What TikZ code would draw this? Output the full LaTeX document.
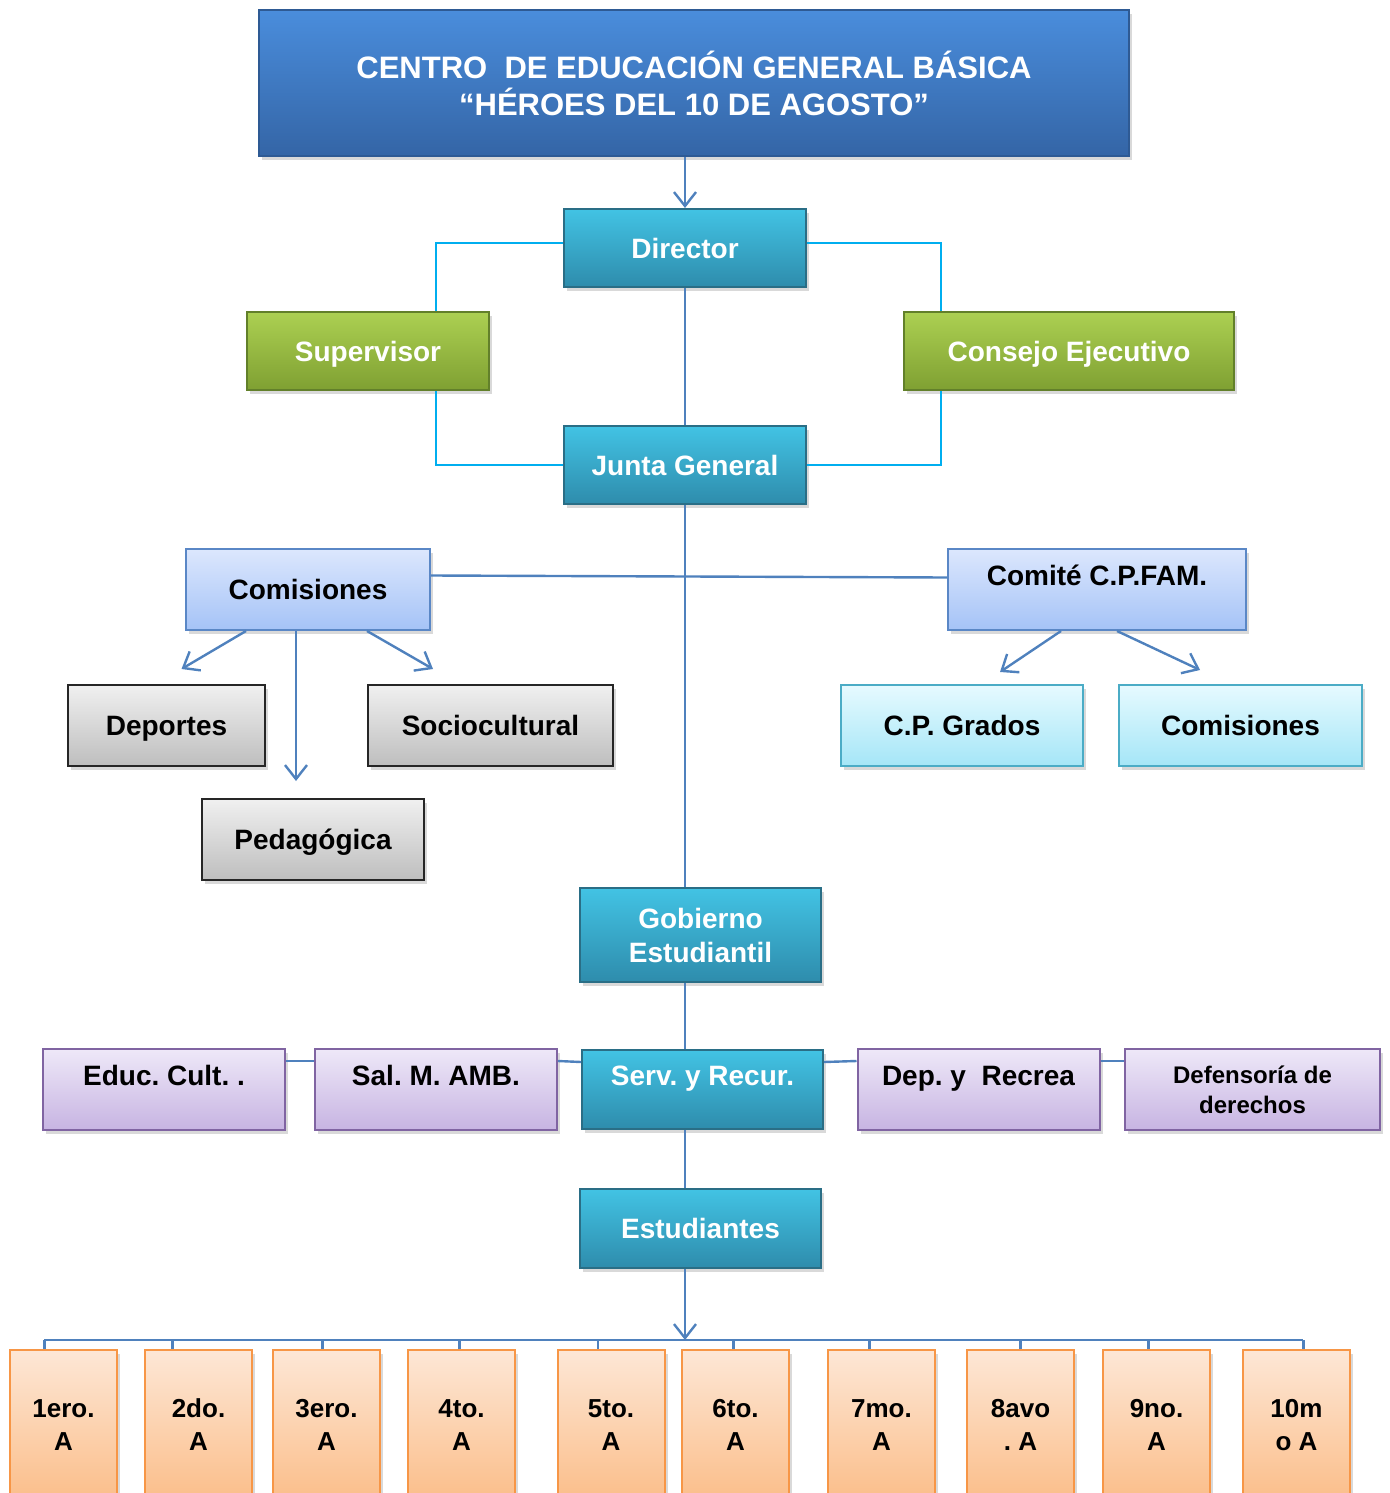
\documentclass[tikz,border=0pt]{standalone}
\usepackage{fontspec}
\setmainfont{Liberation Sans}
\usetikzlibrary{arrows.meta,shadows}
\frenchspacing

\definecolor{titletop}{HTML}{4A8DDC}
\definecolor{titlebot}{HTML}{3465A6}
\definecolor{titleline}{HTML}{2E5A94}
\definecolor{tealtop}{HTML}{42C3E4}
\definecolor{tealbot}{HTML}{2E8CAC}
\definecolor{tealline}{HTML}{2A6E86}
\definecolor{greentop}{HTML}{ACD052}
\definecolor{greenbot}{HTML}{7FA032}
\definecolor{greenline}{HTML}{62802A}
\definecolor{lbluetop}{HTML}{DCE7FD}
\definecolor{lbluebot}{HTML}{A5C3F7}
\definecolor{lblueline}{HTML}{5A87C6}
\definecolor{graytop}{HTML}{F0F0F0}
\definecolor{graybot}{HTML}{BEBEBE}
\definecolor{lcyantop}{HTML}{E6FAFF}
\definecolor{lcyanbot}{HTML}{A5E6F7}
\definecolor{lcyanline}{HTML}{4BACC6}
\definecolor{lilactop}{HTML}{EEE8F8}
\definecolor{lilacbot}{HTML}{C7B4E2}
\definecolor{lilacline}{HTML}{8064A2}
\definecolor{orangetop}{HTML}{FDE7D6}
\definecolor{orangebot}{HTML}{FBBE8A}
\definecolor{orangeline}{HTML}{F79646}
\definecolor{linkblue}{HTML}{4F81BD}
\definecolor{linkcyan}{HTML}{00AEEF}

\begin{document}
\begin{tikzpicture}[x=0.5pt,y=-0.5pt,
    box/.style={inner sep=0pt, align=center, line width=1pt,
        font=\bfseries\fontsize{14}{17}\selectfont,
        drop shadow={opacity=0.3,shadow xshift=1.5pt,shadow yshift=-2pt}},
    titlebox/.style={box, top color=titletop, bottom color=titlebot, draw=titleline, text=white,
        font=\bfseries\fontsize{15.5}{18.5}\selectfont},
    tealbox/.style={box, top color=tealtop, bottom color=tealbot, draw=tealline, text=white},
    greenbox/.style={box, top color=greentop, bottom color=greenbot, draw=greenline, text=white},
    lbluebox/.style={box, top color=lbluetop, bottom color=lbluebot, draw=lblueline},
    graybox/.style={box, top color=graytop, bottom color=graybot, draw=black!85},
    lcyanbox/.style={box, top color=lcyantop, bottom color=lcyanbot, draw=lcyanline},
    lilacbox/.style={box, top color=lilactop, bottom color=lilacbot, draw=lilacline,
        minimum width=121pt, minimum height=40.5pt},
    gradebox/.style={box, top color=orangetop, bottom color=orangebot, draw=orangeline,
        minimum width=53.5pt, minimum height=75pt, font=\bfseries\fontsize{13}{16.5}\selectfont},
    oneline/.style={text height=10pt, text depth=0pt},
    raised/.style={text height=10pt, text depth=14pt},
    link/.style={draw=linkblue, line width=1.2pt},
    sidelink/.style={draw=linkcyan, line width=1pt},
    arrow/.style={link, -{Straight Barb[length=7pt,width=11pt,line width=1.2pt]}}
]
\useasboundingbox (0,0) rectangle (1389,1493);
\clip (0,0) rectangle (1389,1493);

\node[
    titlebox,
    minimum width=435pt,
    minimum height=73pt,
    name=title
] at (694,83) {CENTRO\ \ DE EDUCACIÓN GENERAL BÁSICA\\“HÉROES DEL 10 DE AGOSTO”};

\node[tealbox, oneline, minimum width=121pt, minimum height=39pt, name=dir] at (685,248) {Director};
\node[greenbox, oneline, minimum width=121pt, minimum height=39pt, name=sup] at (368,351) {Supervisor};
\node[greenbox, oneline, minimum width=165pt, minimum height=39pt, name=cons] at (1069,351) {Consejo Ejecutivo};
\node[tealbox, oneline, minimum width=121pt, minimum height=39pt, name=junta] at (685,465) {Junta General};

\node[lbluebox, oneline, minimum width=122pt, minimum height=40.5pt, name=comi] at (308,589.5) {Comisiones};
\node[lbluebox, raised, minimum width=149pt, minimum height=40.5pt, name=comite] at (1097,589.5) {Comité C.P.FAM.};

\node[graybox, oneline, minimum width=98.5pt, minimum height=40.5pt, name=dep] at (166.5,725.5) {Deportes};
\node[graybox, oneline, minimum width=122.5pt, minimum height=40.5pt, name=soc] at (490.5,725.5) {Sociocultural};
\node[graybox, oneline, minimum width=111pt, minimum height=40.5pt, name=ped] at (313,839.5) {Pedagógica};

\node[lcyanbox, oneline, minimum width=121pt, minimum height=40.5pt, name=cpg] at (962,725.5) {C.P. Grados};
\node[lcyanbox, oneline, minimum width=121.5pt, minimum height=40.5pt, name=comidos] at (1240.5,725.5) {Comisiones};

\node[tealbox, minimum width=120.5pt, minimum height=47pt, name=gob] at (700.5,935) {Gobierno\\Estudiantil};

\node[tealbox, raised, minimum width=120.5pt, minimum height=39.5pt, name=serv] at (702.5,1089.5) {Serv. y Recur.};
\node[lilacbox, raised, name=educ] at (164,1089.5) {Educ. Cult. .};
\node[lilacbox, raised, name=sal] at (436,1089.5) {Sal. M. AMB.};
\node[lilacbox, raised, name=deprec] at (978.5,1089.5) {Dep. y\ \ Recrea};
\node[lilacbox, minimum width=127.5pt, name=defen, font=\bfseries\fontsize{12}{15}\selectfont] at (1252.5,1089.5) {Defensoría de\\derechos};

\node[tealbox, oneline, minimum width=120.5pt, minimum height=39.5pt, name=est] at (700.5,1228.5) {Estudiantes};

\node[gradebox, name=g1] at (63.5,1425) {1ero.\\A};
\node[gradebox, name=g2] at (198.5,1425) {2do.\\A};
\node[gradebox, name=g3] at (326.5,1425) {3ero.\\A};
\node[gradebox, name=g4] at (461.5,1425) {4to.\\A};
\node[gradebox, name=g5] at (611,1425) {5to.\\A};
\node[gradebox, name=g6] at (735.5,1425) {6to.\\A};
\node[gradebox, name=g7] at (881.5,1425) {7mo.\\A};
\node[gradebox, name=g8] at (1020.5,1425) {8avo\\. A};
\node[gradebox, name=g9] at (1156.5,1425) {9no.\\A};
\node[gradebox, name=g10] at (1296.5,1425) {10m\\o A};

\draw[arrow] (title.south -| dir.north) -- (dir.north);

\draw[sidelink] ([yshift=2.5pt]dir.west) -| ([xshift=-27pt]sup.north east);
\draw[sidelink] ([xshift=-27pt]sup.south east) |- (junta.west);
\draw[sidelink] ([yshift=2.5pt]dir.east) -| ([xshift=19pt]cons.north west);
\draw[sidelink] ([xshift=19pt]cons.south west) |- (junta.east);

\draw[link] (dir.south) -- (junta.north);
\draw[link] (junta.south) -- (junta.south |- gob.north);
\draw[link] ([yshift=7pt]comi.east) -- ([yshift=6pt]comite.west);

\draw[arrow] ([xshift=-31pt]comi.south) -- ([xshift=7.5pt,yshift=7.5pt]dep.north);
\draw[arrow] ([xshift=-6pt]comi.south) -- ([xshift=-8.5pt,yshift=8.5pt]ped.north);
\draw[arrow] ([xshift=29.5pt]comi.south) -- ([xshift=-28.75pt,yshift=7.5pt]soc.north);

\draw[arrow] ([xshift=-18pt]comite.south) -- ([xshift=19pt,yshift=6pt]cpg.north);
\draw[arrow] ([xshift=10pt]comite.south) -- ([xshift=-20.25pt,yshift=7pt]comidos.north);

\draw[link] (gob.south -| junta.south) -- (serv.north -| junta.south);
\draw[link] (serv.south -| junta.south) -- (est.north -| junta.south);

\draw[link] ([yshift=-6.5pt]educ.north east) -- ([yshift=-6.5pt]sal.north west);
\draw[link] ([yshift=-6.5pt]sal.north east) -- ([yshift=-6.5pt]serv.north west);
\draw[link] ([yshift=-6.5pt]serv.north east) -- ([yshift=-6.5pt]deprec.north west);
\draw[link] ([yshift=-6.5pt]deprec.north east) -- ([yshift=-6.5pt]defen.north west);

\coordinate (busl) at (44,1340);
\coordinate (busr) at (1303,1340);
\draw[link] (busl) -- (busr);
\draw[arrow] (est.south -| junta.south) -- (busl -| junta.south);

\draw[link] ([xshift=-9.5pt]g1.north) -- ([xshift=-9.5pt]g1.north |- busl);
\draw[link] ([xshift=-13pt]g2.north) -- ([xshift=-13pt]g2.north |- busl);
\draw[link] ([xshift=-2pt]g3.north) -- ([xshift=-2pt]g3.north |- busl);
\draw[link] ([xshift=-1pt]g4.north) -- ([xshift=-1pt]g4.north |- busl);
\draw[link] ([xshift=-6.5pt]g5.north) -- ([xshift=-6.5pt]g5.north |- busl);
\draw[link] ([xshift=-1pt]g6.north) -- ([xshift=-1pt]g6.north |- busl);
\draw[link] ([xshift=-6pt]g7.north) -- ([xshift=-6pt]g7.north |- busl);
\draw[link] (g8.north) -- (g8.north |- busl);
\draw[link] ([xshift=-4pt]g9.north) -- ([xshift=-4pt]g9.north |- busl);
\draw[link] ([xshift=3.5pt]g10.north) -- ([xshift=3.5pt]g10.north |- busl);
\end{tikzpicture}
\end{document}
